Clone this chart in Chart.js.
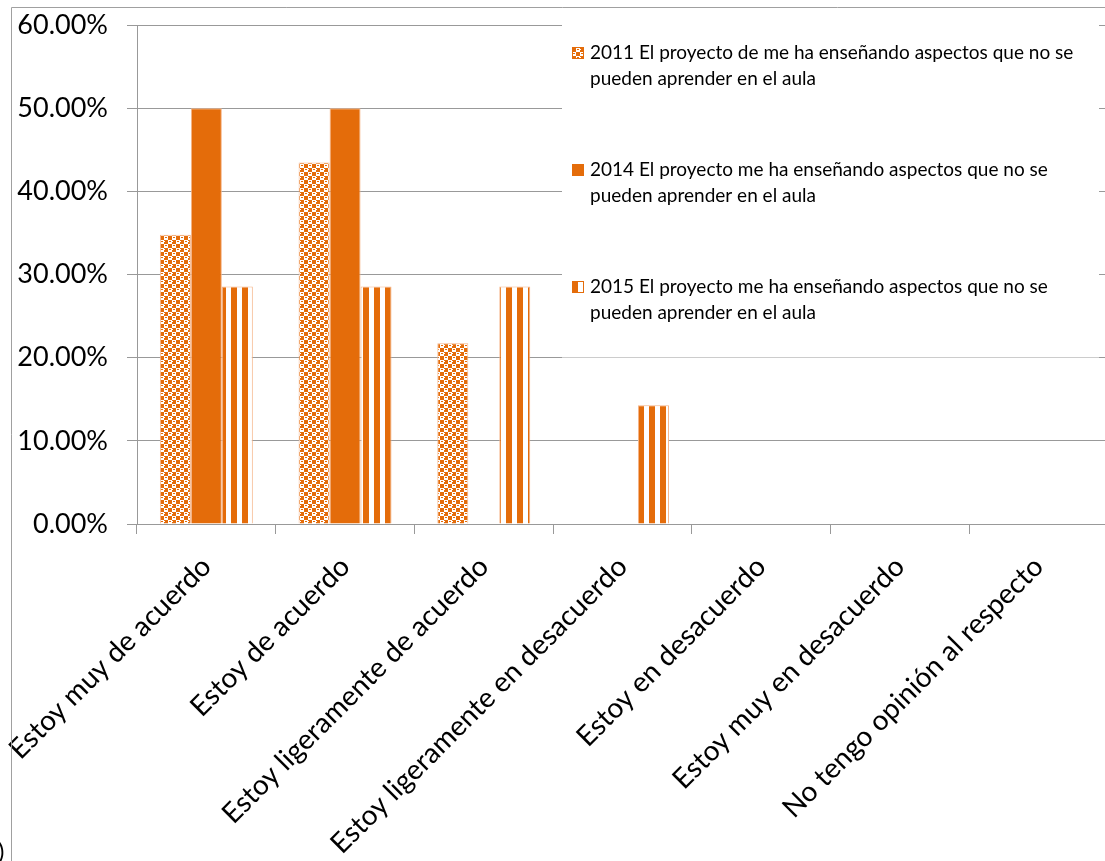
<!DOCTYPE html>
<html>
<head>
<meta charset="utf-8">
<script src="https://cdn.jsdelivr.net/npm/chart.js@4/dist/chart.umd.min.js"></script>
<style>
  html, body { margin: 0; padding: 0; background: #fff; overflow: hidden; }
  #wrap { position: relative; width: 1105px; height: 861px; overflow: hidden; background: #fff; }
  canvas { display: block; }
</style>
</head>
<body>
<div id="wrap"><canvas id="c" width="1112" height="861"></canvas></div>
<script>
// Survey answers (percent of respondents per year)
const categories = [
  'Estoy muy de acuerdo',
  'Estoy de acuerdo',
  'Estoy ligeramente de acuerdo',
  'Estoy ligeramente en desacuerdo',
  'Estoy en desacuerdo',
  'Estoy muy en desacuerdo',
  'No tengo opinión al respecto'
];
const values2011 = [34.78, 43.48, 21.74, 0, 0, 0, 0];
const values2014 = [50.00, 50.00, 0, 0, 0, 0, 0];
const values2015 = [28.57, 28.57, 28.57, 14.29, 0, 0, 0];
const seriesNames = [
  '2011 El proyecto de me ha enseñando aspectos que no se pueden aprender en el aula',
  '2014 El proyecto me ha enseñando aspectos que no se pueden aprender en el aula',
  '2015 El proyecto me ha enseñando aspectos que no se pueden aprender en el aula'
];
const yTickValues = [0, 10, 20, 30, 40, 50, 60];

const ORANGE = '#E46C0A';
const EDGE = '#F5B487';
const GRID = '#999999';
const FONT = 'Lato, "Open Sans", sans-serif';

// Fill patterns
function makePattern(rows) {
  const h = rows.length, w = rows[0].length;
  const cv = document.createElement('canvas');
  cv.width = w; cv.height = h;
  const g = cv.getContext('2d');
  g.fillStyle = '#ffffff';
  g.fillRect(0, 0, w, h);
  g.fillStyle = ORANGE;
  for (let y = 0; y < h; y++)
    for (let x = 0; x < w; x++)
      if (rows[y][x] === '1') g.fillRect(x, y, 1, 1);
  return g.createPattern(cv, 'repeat');
}
const checkerPattern = makePattern([
  '00001111',
  '01100111',
  '00001111',
  '00001111',
  '11110000',
  '11110110',
  '11110000',
  '11110000'
]);
const stripePattern = makePattern(['11111100000']);

function wrapText(ctx, text, maxWidth) {
  const words = text.split(' ');
  const lines = [];
  let line = '';
  for (const w of words) {
    const test = line ? line + ' ' + w : w;
    if (ctx.measureText(test).width > maxWidth && line) {
      lines.push(line);
      line = w;
    } else line = test;
  }
  if (line) lines.push(line);
  return lines;
}

// Legend drawn at the upper right over a white panel
const sideLegend = {
  id: 'sideLegend',
  afterDatasetsDraw(chart) {
    const ctx = chart.ctx;
    ctx.save();
    ctx.fillStyle = '#ffffff';
    ctx.fillRect(562, 16, 537, 341.5);
    ctx.font = '19px ' + FONT;
    ctx.textBaseline = 'middle';
    ctx.textAlign = 'left';
    chart.data.datasets.forEach((ds, i) => {
      const yc = 53 + i * 117;
      ctx.fillStyle = ds.backgroundColor;
      ctx.fillRect(572, yc - 6, 12, 12);
      ctx.strokeStyle = ORANGE;
      ctx.lineWidth = 1;
      ctx.strokeRect(572.5, yc - 5.5, 11, 11);
      ctx.fillStyle = '#000000';
      const lines = wrapText(ctx, ds.label, 505);
      lines.forEach((ln, j) => ctx.fillText(ln, 590, yc + j * 26));
    });
    ctx.restore();
  }
};

// Outer frame and the stray caption glyph at the bottom left
const frame = {
  id: 'frame',
  afterDraw(chart) {
    const ctx = chart.ctx;
    ctx.save();
    ctx.strokeStyle = '#A0A0A0';
    ctx.lineWidth = 1;
    ctx.beginPath();
    ctx.moveTo(11.5, 870);
    ctx.lineTo(11.5, 7.5);
    ctx.lineTo(1120, 7.5);
    ctx.stroke();
    ctx.fillStyle = '#000000';
    ctx.font = '24px ' + FONT;
    ctx.textBaseline = 'alphabetic';
    ctx.fillText(')', -2, 860);
    ctx.restore();
  }
};

function build() {
  new Chart(document.getElementById('c'), {
    type: 'bar',
    data: {
      labels: categories,
      datasets: [
        { label: seriesNames[0], data: values2011, backgroundColor: checkerPattern, borderColor: EDGE, borderWidth: 1 },
        { label: seriesNames[1], data: values2014, backgroundColor: ORANGE, borderColor: EDGE, borderWidth: 1 },
        { label: seriesNames[2], data: values2015, backgroundColor: stripePattern, borderColor: EDGE, borderWidth: 1 }
      ]
    },
    options: {
      responsive: false,
      animation: false,
      devicePixelRatio: 1,
      layout: { padding: { left: 0, top: 25, right: 4, bottom: 0 } },
      categoryPercentage: 0.67,
      barPercentage: 1.0,
      plugins: { legend: { display: false }, tooltip: { enabled: false } },
      scales: {
        x: {
          grid: { display: true, drawOnChartArea: false, drawTicks: true, tickLength: 10, color: GRID, offset: true },
          border: { display: true, color: GRID },
          ticks: { autoSkip: false, maxRotation: 45, minRotation: 45, padding: 16, color: '#000', font: { family: FONT, size: 28 } },
          afterFit(s) { s.height = 337; s.paddingLeft = 0; s.paddingRight = 0; }
        },
        y: {
          min: 0, max: 60,
          grid: { color: GRID, tickLength: 10 },
          border: { display: true, color: GRID },
          ticks: { padding: 19, color: '#000', font: { family: FONT, size: 27 }, callback: v => v.toFixed(2) + '%' },
          afterBuildTicks(s) { s.ticks = yTickValues.map(v => ({ value: v })); },
          afterFit(s) { s.width = 137; s.paddingTop = 0; s.paddingBottom = 0; }
        }
      }
    },
    plugins: [sideLegend, frame]
  });
}

if (document.fonts && document.fonts.load) {
  Promise.all([document.fonts.load('27px Lato'), document.fonts.load('19px Lato')]).then(build, build);
} else build();
</script>
</body>
</html>
